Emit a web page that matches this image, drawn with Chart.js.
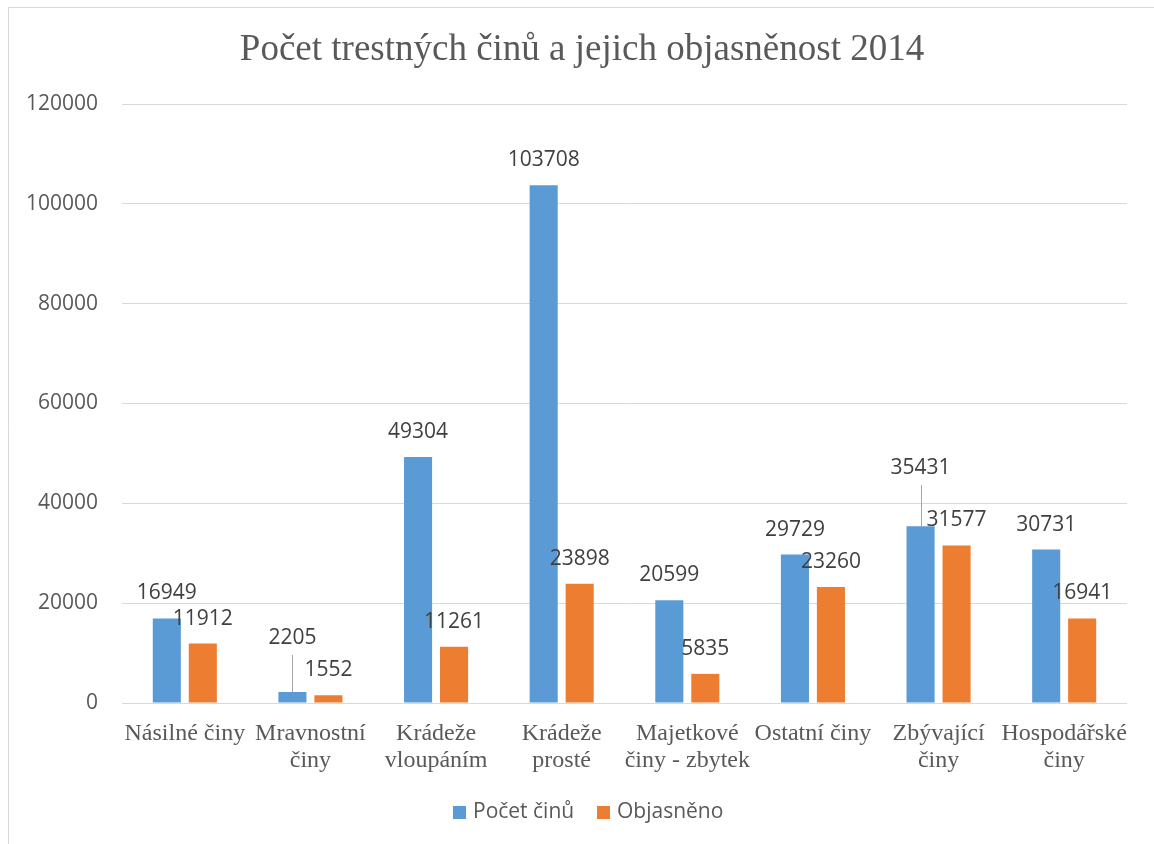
<!DOCTYPE html>
<html>
<head>
<meta charset="utf-8">
<script src="https://cdn.jsdelivr.net/npm/chart.js@4/dist/chart.umd.min.js"></script>
<style>
html,body{margin:0;padding:0;background:#fff;}
#wrap{width:1154px;height:844px;position:relative;}
</style>
</head>
<body>
<div id="wrap"><canvas id="c" width="1154" height="844"></canvas></div>
<script>
const chartTitle = 'Počet trestných činů a jejich objasněnost 2014';
const categories = [
  'Násilné činy',
  ['Mravnostní', 'činy'],
  ['Krádeže', 'vloupáním'],
  ['Krádeže', 'prosté'],
  ['Majetkové', 'činy - zbytek'],
  'Ostatní činy',
  ['Zbývající', 'činy'],
  ['Hospodářské', 'činy']
];
const seriesNames = ['Počet činů', 'Objasněno'];
const pocetCinu = [16949, 2205, 49304, 103708, 20599, 29729, 35431, 30731];
const objasneno = [11912, 1552, 11261, 23898, 5835, 23260, 31577, 16941];
const yTicks = [0, 20000, 40000, 60000, 80000, 100000, 120000];
const colors = ['#5b9bd5', '#ed7d31'];

const SANS = '"Open Sans", "DejaVu Sans", sans-serif';
const SERIF = '"Liberation Serif", "DejaVu Serif", serif';

// extra lift (px) for labels Excel moved off their bars, drawn with a leader line
const labelLift = { '0-1': 29, '0-6': 33 };

const decor = {
  id: 'decor',
  beforeDraw(chart) {
    const ctx = chart.ctx;
    ctx.save();
    ctx.fillStyle = '#fff';
    ctx.fillRect(0, 0, chart.width, chart.height);
    ctx.strokeStyle = '#d9d9d9';
    ctx.lineWidth = 1;
    ctx.beginPath();
    ctx.moveTo(8.5, chart.height);
    ctx.lineTo(8.5, 7.5);
    ctx.lineTo(chart.width, 7.5);
    ctx.stroke();
    // title
    ctx.fillStyle = '#595959';
    ctx.font = '37px ' + SERIF;
    ctx.textAlign = 'center';
    ctx.textBaseline = 'middle';
    ctx.fillText(chartTitle, 582, 50);
    // legend
    ctx.font = '21px ' + SANS;
    ctx.textAlign = 'left';
    const items = [[453, seriesNames[0], colors[0]], [597, seriesNames[1], colors[1]]];
    items.forEach(([x, t, c]) => {
      ctx.fillStyle = c;
      ctx.fillRect(x, 806, 13, 13);
      ctx.fillStyle = '#595959';
      ctx.fillText(t, x + 20, 812);
    });
    ctx.restore();
  },
  afterDatasetsDraw(chart) {
    const ctx = chart.ctx;
    ctx.save();
    ctx.font = '21px ' + SANS;
    ctx.fillStyle = '#404040';
    ctx.textAlign = 'center';
    ctx.textBaseline = 'middle';
    chart.data.datasets.forEach((ds, di) => {
      const meta = chart.getDatasetMeta(di);
      meta.data.forEach((bar, i) => {
        const lift = labelLift[di + '-' + i] || 0;
        const cy = bar.y - 25 - lift;
        if (lift) {
          ctx.strokeStyle = '#a6a6a6';
          ctx.lineWidth = 1;
          ctx.beginPath();
          ctx.moveTo(Math.round(bar.x) + 0.5, cy + 17);
          ctx.lineTo(Math.round(bar.x) + 0.5, bar.y);
          ctx.stroke();
        }
        ctx.fillText(String(ds.data[i]), bar.x, cy);
      });
    });
    ctx.restore();
  }
};

new Chart(document.getElementById('c'), {
  type: 'bar',
  data: {
    labels: categories,
    datasets: [
      { label: seriesNames[0], data: pocetCinu, backgroundColor: colors[0] },
      { label: seriesNames[1], data: objasneno, backgroundColor: colors[1] }
    ]
  },
  options: {
    responsive: false,
    animation: false,
    devicePixelRatio: 1,
    layout: { padding: { left: 0, right: 27, top: 104, bottom: 0 } },
    datasets: { bar: { categoryPercentage: 0.573, barPercentage: 0.78 } },
    plugins: { legend: { display: false }, title: { display: false }, tooltip: { enabled: false } },
    scales: {
      x: {
        grid: { display: false },
        border: { display: false },
        ticks: {
          color: '#595959',
          font: { family: SERIF, size: 24, lineHeight: 1.13 },
          padding: 9,
          maxRotation: 0,
          autoSkip: false
        },
        afterFit(s) { s.height = 141; }
      },
      y: {
        min: 0,
        max: 120000,
        afterBuildTicks(s) { s.ticks = yTicks.map(v => ({ value: v })); },
        grid: { color: '#d9d9d9', lineWidth: 1, drawTicks: false },
        border: { display: false },
        ticks: {
          color: '#595959',
          font: { family: SANS, size: 21 },
          padding: 24,
          callback: v => String(v)
        },
        afterFit(s) { s.width = 122; }
      }
    }
  },
  plugins: [decor]
});
</script>
</body>
</html>
